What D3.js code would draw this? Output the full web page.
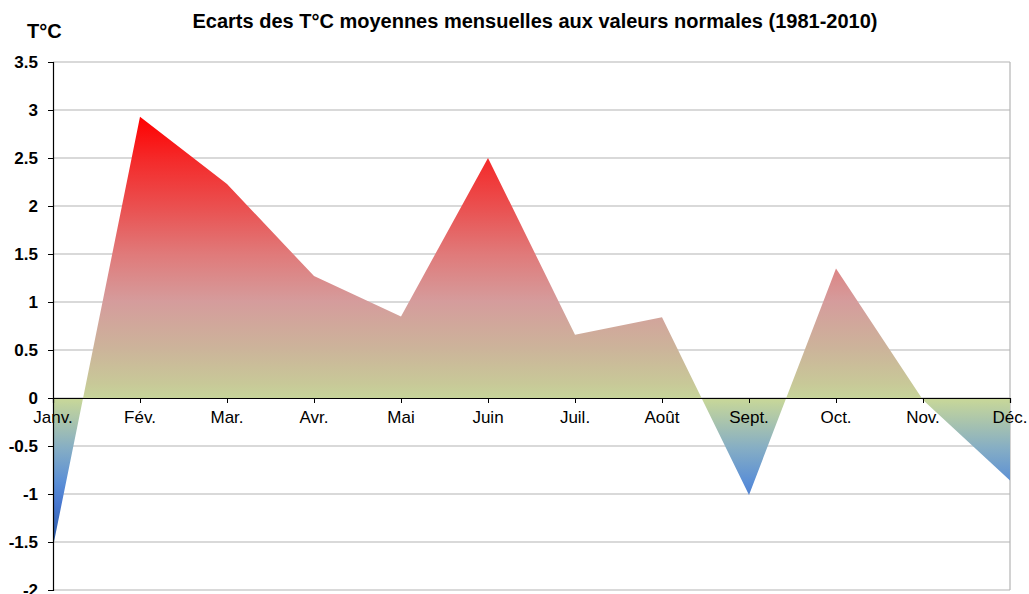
<!DOCTYPE html>
<html>
<head>
<meta charset="utf-8">
<script src="https://cdn.jsdelivr.net/npm/d3@7"></script>
<style>
  body { margin: 0; background: #fff; }
  text { font-family: "Liberation Sans", Arial, sans-serif; }
</style>
</head>
<body>
<div id="chart"></div>
<script>
let w = 1029;
let h = 594;

// data
let months = ["Janv.", "Fév.", "Mar.", "Avr.", "Mai", "Juin", "Juil.", "Août", "Sept.", "Oct.", "Nov.", "Déc."];
let ecarts = [-1.55, 2.93, 2.23, 1.27, 0.85, 2.5, 0.66, 0.84, -1.01, 1.35, -0.02, -0.86];
let yTicks = [3.5, 3, 2.5, 2, 1.5, 1, 0.5, 0, -0.5, -1, -1.5, -2];

let plotLeft = 53, plotRight = 1010, plotTop = 62, plotBottom = 590;

let svg = d3.select("#chart")
  .append("svg")
  .attr("width", w)
  .attr("height", h);

let xScale = d3.scalePoint().domain(months).range([plotLeft, plotRight]);
let yScale = d3.scaleLinear().domain([-2, 3.5]).range([plotBottom, plotTop]);

// gradient for the area (red on top, khaki at zero, blue below)
let defs = svg.append("defs");
let grad = defs.append("linearGradient")
  .attr("id", "fillGrad")
  .attr("gradientUnits", "userSpaceOnUse")
  .attr("x1", 0).attr("x2", 0)
  .attr("y1", yScale(d3.max(ecarts)))
  .attr("y2", yScale(d3.min(ecarts)));

let stops = [
  [0, "#ff0000"],
  [0.1, "#f42a2a"],
  [0.21, "#ea5050"],
  [0.32, "#e07a7a"],
  [0.43, "#d59c9c"],
  [0.54, "#ccb49a"],
  [0.62, "#c8c898"],
  [0.66, "#c6d69a"],
  [0.77, "#86aec4"],
  [0.85, "#5b8fd6"],
  [0.9, "#4878d0"],
  [1, "#2a58a0"]
];
grad.selectAll("stop").data(stops).enter()
  .append("stop")
  .attr("offset", d => d[0])
  .attr("stop-color", d => d[1]);

// gridlines
svg.selectAll(".grid").data(yTicks).enter()
  .append("line")
  .attr("class", "grid")
  .attr("x1", plotLeft).attr("x2", plotRight)
  .attr("y1", d => yScale(d)).attr("y2", d => yScale(d))
  .attr("stroke", "#b4b4b4")
  .attr("stroke-width", 1.2);

// right border
svg.append("line")
  .attr("x1", plotRight).attr("x2", plotRight)
  .attr("y1", plotTop).attr("y2", plotBottom)
  .attr("stroke", "#b4b4b4")
  .attr("stroke-width", 1.2);

// area
let area = d3.area()
  .x((d, i) => xScale(months[i]))
  .y0(yScale(0))
  .y1(d => yScale(d));

svg.append("path")
  .datum(ecarts)
  .attr("d", area)
  .attr("fill", "url(#fillGrad)");

// zero axis with ticks
let xAxis = d3.axisBottom(xScale).tickSize(5).tickFormat("");
let gx = svg.append("g")
  .attr("transform", "translate(0," + yScale(0) + ")")
  .call(xAxis);
gx.select(".domain").attr("stroke", "#000").attr("stroke-width", 1.2);
gx.selectAll(".tick line").attr("stroke", "#000");

svg.selectAll(".xlab").data(months).enter()
  .append("text")
  .attr("class", "xlab")
  .attr("x", d => xScale(d))
  .attr("y", yScale(0) + 25)
  .attr("text-anchor", "middle")
  .attr("font-size", 17)
  .attr("fill", "#000")
  .text(d => d);

// y axis
let yAxis = d3.axisLeft(yScale).tickValues(yTicks).tickSize(5).tickFormat(d => d);
let gy = svg.append("g")
  .attr("transform", "translate(" + plotLeft + ",0)")
  .call(yAxis);
gy.select(".domain").attr("stroke", "#000").attr("stroke-width", 1.2);
gy.selectAll(".tick line").attr("stroke", "#000");
gy.selectAll(".tick text")
  .attr("font-family", "Liberation Sans, Arial, sans-serif")
  .attr("font-size", 17)
  .attr("font-weight", "bold")
  .attr("fill", "#000")
  .attr("x", -15);

// title
svg.append("text")
  .attr("x", 535)
  .attr("y", 28)
  .attr("text-anchor", "middle")
  .attr("font-size", 20)
  .attr("font-weight", "bold")
  .text("Ecarts des T°C moyennes mensuelles aux valeurs normales (1981-2010)");

svg.append("text")
  .attr("x", 27)
  .attr("y", 38)
  .attr("font-size", 20)
  .attr("font-weight", "bold")
  .text("T°C");
</script>
</body>
</html>
